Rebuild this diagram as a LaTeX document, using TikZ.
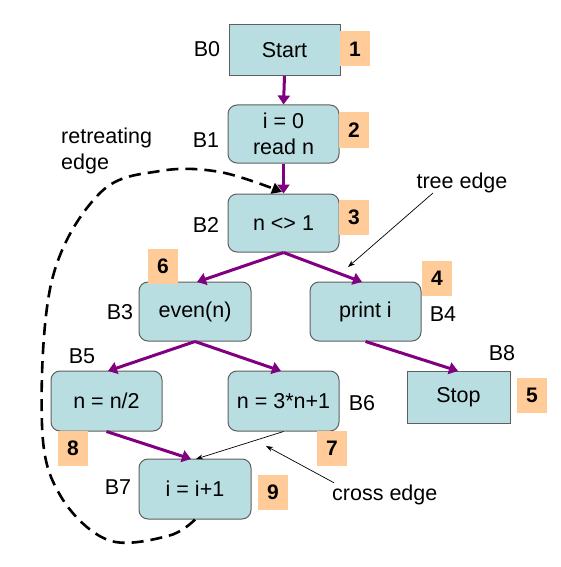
\documentclass[tikz,border=0pt]{standalone}
\usepackage{fontspec}
\setmainfont{Liberation Sans}
\usetikzlibrary{arrows.meta}
\definecolor{boxfill}{RGB}{185,222,226}
\definecolor{boxline}{RGB}{95,95,95}
\definecolor{numfill}{RGB}{255,204,153}
\definecolor{edgepurple}{RGB}{128,0,128}
\tikzset{
  blk/.style={draw=boxline, line width=1pt, fill=boxfill, minimum width=111pt, inner sep=0pt, font=\fontsize{21.5}{26}\selectfont, align=center},
  rblk/.style={blk, rounded corners=9pt},
  numbox/.style={fill=numfill, minimum width=30pt, minimum height=35pt, inner sep=0pt, font=\fontsize{21}{25}\selectfont\bfseries},
  lbl/.style={inner sep=0pt, font=\fontsize{21.5}{26}\selectfont},
  flow/.style={draw=edgepurple, line width=3pt, -{Triangle[length=9pt,width=12pt]}},
  thin/.style={draw=black, line width=0.7pt, -{Stealth[length=7pt,width=5pt]}},
  retreat/.style={draw=black, line width=2.6pt, dash pattern=on 12pt off 7pt, -{Triangle[length=10pt,width=11pt]}}
}
\begin{document}
\begin{tikzpicture}[x=1pt,y=-1pt]
\useasboundingbox (0,0) rectangle (560,567);
% blocks
\node[blk, minimum height=51pt] (b0) at (284.5,50) {Start};
\node[rblk, minimum height=58pt] (b1) at (283.5,134) {i = 0\\read n};
\node[rblk, minimum height=58pt] (b2) at (283.5,223) {n <> 1};
\node[rblk, minimum width=112pt, minimum height=59pt] (b3) at (195,311.5) {even(n)};
\node[rblk, minimum height=59pt] (b4) at (365.5,311.5) {print i};
\node[rblk, minimum height=60pt] (b5) at (106.5,401) {n = n/2};
\node[rblk, minimum height=60pt] (b6) at (283.5,401) {n = 3*n+1};
\node[rblk, minimum width=112pt, minimum height=60pt] (b7) at (195,489) {i = i+1};
\node[blk, minimum width=103pt, minimum height=52pt] (b8) at (458.5,397) {Stop};
% numbers
\node[numbox] (n1) at (355,49) {1};
\node[numbox] (n2) at (354,130) {2};
\node[numbox] (n3) at (354,217) {3};
\node[numbox] (n6) at (163,266) {6};
\node[numbox] (n4) at (437,278) {4};
\node[numbox] (n8) at (73,448) {8};
\node[numbox] (n7) at (332,448) {7};
\node[numbox] (n9) at (273,492) {9};
\node[numbox] (n5) at (532,395) {5};
% block labels
\node[lbl] (l0) at (207,49) {B0};
\node[lbl] (l1) at (206,140) {B1};
\node[lbl] (l2) at (206,225) {B2};
\node[lbl] (l3) at (120,312) {B3};
\node[lbl] (l4) at (443,314) {B4};
\node[lbl] (l5) at (82,356) {B5};
\node[lbl] (l6) at (362,403) {B6};
\node[lbl] (l7) at (118,487) {B7};
\node[lbl] (l8) at (502,353) {B8};
% annotations
\node[lbl, align=left, anchor=west] (tret) at (61,151) {retreating\\edge};
\node[lbl] (ttree) at (462,183) {tree edge};
\node[lbl, anchor=west] (tcross) at (332,495) {cross edge};
\coordinate (treetip) at (348,267);
\coordinate (crosstip) at (266,446);
% flow edges
\draw[flow] (b0.south) -- (b1.north);
\draw[flow] (b1.south) -- (b2.north);
\draw[flow] (b2.south) -- (197,282);
\draw[flow] (b2.south) -- (362,282);
\draw[flow] (b3.south) -- (108,371);
\draw[flow] (b3.south) -- (281,371);
\draw[flow] (b5.south) -- (191,459);
\draw[flow] (b4.south) -- (458,371);
% thin edges
\draw[thin] (b6.south) -- (196,459);
\draw[thin] (433,193) -- (treetip);
\draw[thin] (tcross.north west) ++(2,-2) -- (crosstip);
% retreating edge
\draw[retreat] plot[smooth, tension=0.6] coordinates {(b7.south) (168,536) (108,540) (60,495) (42,425) (52,280) (100,193) (160,171) (220,172) (282,192)};
\end{tikzpicture}
\end{document}
